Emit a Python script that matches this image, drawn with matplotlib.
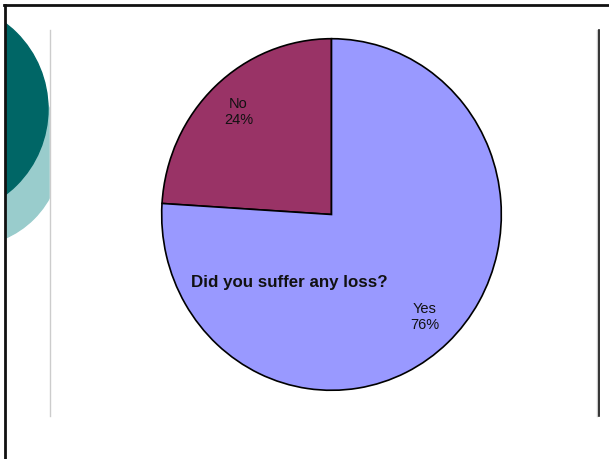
import matplotlib.pyplot as plt
from matplotlib.patches import Circle, Rectangle

categories = ['No', 'Yes']
values = [24, 76]
colors = ['#993366', '#9999FF']
title = 'Did you suffer any loss?'

W, H = 609, 459
fig = plt.figure(figsize=(W / 100, H / 100), dpi=100)
ax = fig.add_axes([0, 0, 1, 1])
ax.set_xlim(0, W)
ax.set_ylim(0, H)
ax.axis('off')

def py(y):
    # pixel row (top-down) -> data y
    return H - y

# decorative circles on the left
ax.add_patch(Circle((-32, py(153)), 93, color='#99CCCC', zorder=1))
ax.add_patch(Rectangle((50, py(300)), 60, 250, color='white', zorder=1.5))
ax.add_patch(Circle((-59.5, py(109)), 107.5, color='#006666', zorder=2))
ax.add_patch(Rectangle((-200, 0), 204, H, color='white', zorder=2.5))

# slide frame
ax.plot([4, W], [py(5), py(5)], color='#111111', lw=2, zorder=5)
ax.plot([5, 5], [py(5), 0], color='#111111', lw=2, zorder=5)

# chart area edges
ax.plot([50, 50], [py(30), py(416)], color='#cccccc', lw=1, zorder=3)
ax.plot([597, 597], [py(30), py(416)], color='#cccccc', lw=1, zorder=3)
ax.plot([599, 599], [py(30), py(416)], color='#111111', lw=1.2, zorder=3)

# pie in its own axes (pixel box 161..502 x 38..391)
pax = fig.add_axes([161 / W, (H - 391) / H, 341 / W, 353 / H])
labels = [f'{c}\n{v}%' for c, v in zip(categories, values)]
wedges, texts = pax.pie(values, labels=labels, colors=colors,
                        startangle=90, counterclock=True,
                        labeldistance=0.8,
                        wedgeprops=dict(edgecolor='black', linewidth=1.2),
                        textprops=dict(fontsize=10.5, family='Liberation Sans',
                                       color='#111111', linespacing=1.25))
for t in texts:
    t.set_ha('center')
    t.set_va('center')
pax.set_aspect('auto')
pax.set_xlim(-1.004, 1.004)
pax.set_ylim(-1.004, 1.004)
pax.axis('off')

fig.text(289 / W, 1 - 283 / H, title, ha='center', va='center', fontsize=12.2,
         fontweight='bold', family='Liberation Sans', color='#111111', zorder=6)

fig.savefig('out.png', dpi=100)
